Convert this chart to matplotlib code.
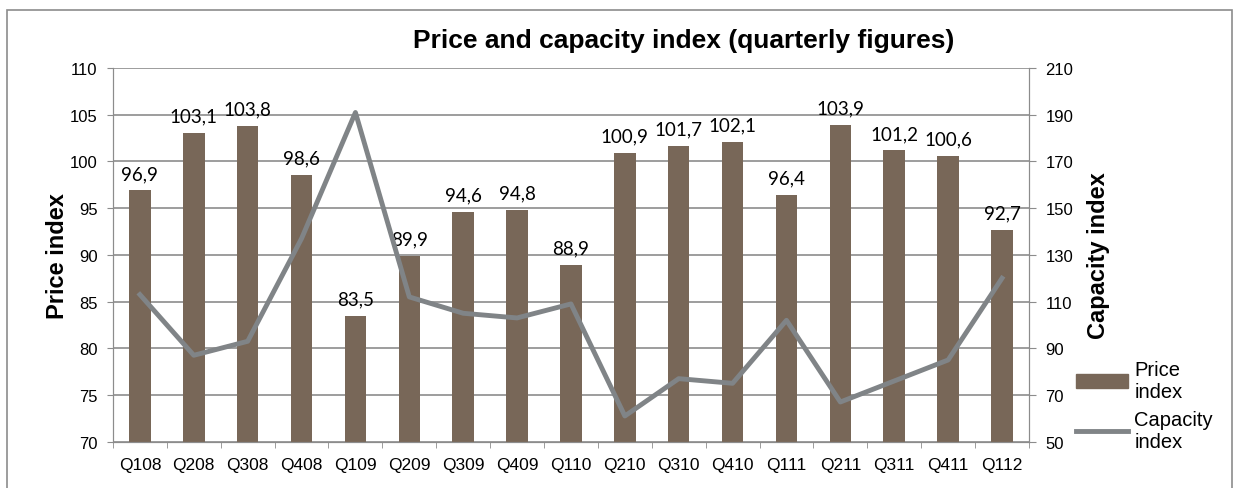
import matplotlib.pyplot as plt
from matplotlib.patches import Rectangle, Patch
from matplotlib.lines import Line2D

quarters = ['Q108', 'Q208', 'Q308', 'Q408', 'Q109', 'Q209', 'Q309', 'Q409', 'Q110',
            'Q210', 'Q310', 'Q410', 'Q111', 'Q211', 'Q311', 'Q411', 'Q112']
price_index = [96.9, 103.1, 103.8, 98.6, 83.5, 89.9, 94.6, 94.8, 88.9,
               100.9, 101.7, 102.1, 96.4, 103.9, 101.2, 100.6, 92.7]
capacity_index = [113, 87, 93, 137, 191, 112, 105, 103, 109,
                  61, 77, 75, 102, 67, 76, 85, 120]

bar_col = '#786758'
line_col = '#808487'
grid_col = '#8c8c8c'

plt.rcParams['font.family'] = ['Liberation Sans', 'DejaVu Sans']

fig = plt.figure(figsize=(12.4, 4.89), dpi=100)
ax = fig.add_axes([0.0911, 0.0947, 0.7387, 0.764])
ax2 = ax.twinx()

x = range(len(quarters))
ax.bar(x, price_index, width=0.4, color=bar_col, zorder=2)
for i, v in enumerate(price_index):
    ax.text(i, v + 0.9, f'{v:.1f}'.replace('.', ','), ha='center', va='bottom',
            fontsize=13.5, family='Lato')

ax.set_ylim(70, 110)
ax.set_xlim(-0.5, len(quarters) - 0.5)
ax.set_yticks(range(70, 111, 5))
ax.set_xticks(list(x))
ax.set_xticklabels(quarters, fontsize=12.5)
ax.set_xticks([i - 0.5 for i in range(len(quarters) + 1)], minor=True)
ax.tick_params(axis='x', which='major', length=0, pad=11)
ax.tick_params(axis='x', which='minor', length=4, color=grid_col, direction='out')
ax.tick_params(axis='y', labelsize=12, length=4, color=grid_col, pad=7)
ax.yaxis.grid(True, color=grid_col, linewidth=1.2, zorder=0)
ax.set_axisbelow(True)
ax.set_ylabel('Price index', fontsize=17, fontweight='bold', labelpad=1)

ax2.plot(x, capacity_index, color=line_col, linewidth=3.5, zorder=3)
ax2.set_ylim(50, 210)
ax2.set_yticks(range(50, 211, 20))
ax2.tick_params(axis='y', labelsize=12, length=5, color=grid_col, pad=7)
ax2.set_ylabel('Capacity index', fontsize=17, fontweight='bold', labelpad=10)

for a in (ax, ax2):
    for s in a.spines.values():
        s.set_color(grid_col)
    a.spines['top'].set_visible(False)

fig.text(0.551, 0.916, 'Price and capacity index (quarterly figures)',
         ha='center', va='center', fontsize=19, fontweight='bold')

handles = [Patch(color=bar_col), Line2D([], [], color=line_col, linewidth=3.5)]
fig.legend(handles, ['Price\nindex', 'Capacity\nindex'], loc='upper left',
           bbox_to_anchor=(0.8677, 0.262), frameon=False, fontsize=14.5,
           borderpad=0, borderaxespad=0, handlelength=2.6, handletextpad=0.3,
           labelspacing=0.45)

fig.patches.append(Rectangle((7 / 1240, -0.1), 1225 / 1240, 1.1 - 11 / 489,
                             transform=fig.transFigure, fill=False,
                             edgecolor='#8c8c8c', linewidth=1.2))

fig.savefig('out.png', dpi=100)
